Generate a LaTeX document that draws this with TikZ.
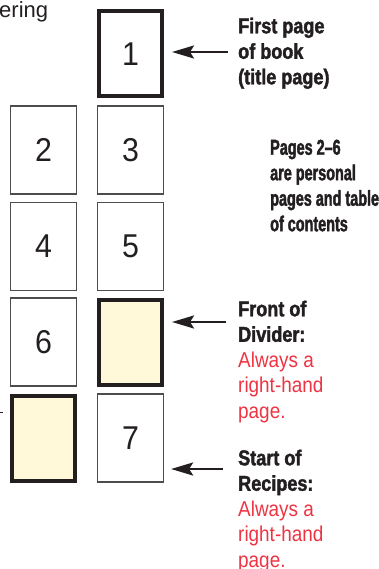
\documentclass[tikz,border=0pt]{standalone}
\usepackage{fontspec}
\setmainfont{Liberation Sans}
\newfontfamily\lblfont[FakeStretch=0.84, BoldFeatures={FakeBold=1.8}]{Liberation Sans}
\newfontfamily\notefont[FakeStretch=0.88]{Liberation Sans}
\newfontfamily\packfont[FakeStretch=0.67, BoldFeatures={FakeBold=1.8}]{Liberation Sans}
\newfontfamily\numfont[FakeStretch=0.92]{Liberation Sans}
\usepackage{xcolor}
\usetikzlibrary{arrows.meta}
\definecolor{ink}{HTML}{231F20}
\definecolor{edge}{HTML}{4D4D4F}
\definecolor{cream}{HTML}{FFF9D9}
\definecolor{notered}{HTML}{EE3342}

\begin{document}
\begin{tikzpicture}[x=1pt, y=-1pt,
  pg/.style={draw=edge, line width=1.2pt, minimum width=66pt, minimum height=88pt, inner sep=0pt, text=ink, font=\numfont\fontsize{33}{36}\selectfont},
  divpg/.style={pg, draw=ink, line width=4pt, fill=cream, minimum width=63pt, minimum height=85pt},
  lbl/.style={anchor=north west, align=left, inner sep=0pt, text=ink, font=\lblfont\bfseries\fontsize{21.5}{25.5}\selectfont},
  arr/.style={-{Stealth[length=22pt, width=13pt, inset=4pt]}, line width=2.6pt, draw=ink}]
\useasboundingbox (0,0) rectangle (379,569);
\node[anchor=base west, inner sep=0pt, text=ink, font=\fontsize{22}{25}\selectfont] (ttl) at (-1,18) {ering};
% pages, two columns
\node[divpg, fill=white] (p1) at (130.5,54) {1};
\node[pg] (p2) at (43.5,150) {2};
\node[pg] (p3) at (130.5,150) {3};
\node[pg] (p4) at (43.5,246.5) {4};
\node[pg] (p5) at (130.5,246.5) {5};
\node[pg] (p6) at (43.5,342) {6};
\node[divpg] (dfront) at (130.5,342) {};
\node[divpg] (dback) at (43.5,438) {};
\node[pg] (p7) at (130.5,438) {7};
\draw[ink, line width=1pt] (0,412) -- (3,412);
% labels
\node[lbl] (lfirst) at (238,17.5) {First page\\of book\\(title page)};
\node[lbl, font=\packfont\bfseries\fontsize{21.5}{25.5}\selectfont] (lpages) at (270,139.5) {Pages 2–6\\are personal\\pages and table\\of contents};
\node[lbl] (lfront) at (238,300.5) {Front of\\Divider:\\\textcolor{notered}{\notefont\mdseries Always a}\\\textcolor{notered}{\notefont\mdseries right-hand}\\\textcolor{notered}{\notefont\mdseries page.}};
\node[lbl] (lstart) at (238,449.5) {Start of\\Recipes:\\\textcolor{notered}{\notefont\mdseries Always a}\\\textcolor{notered}{\notefont\mdseries right-hand}\\\textcolor{notered}{\notefont\mdseries page.}};
% arrows
\coordinate (a1) at (228,52);
\coordinate (a2) at (226,322);
\coordinate (a3) at (223,469);
\draw[arr] (a1) -- (a1 -| p1.east) [shorten >=8pt];
\draw[arr] (a2) -- (a2 -| dfront.east) [shorten >=8pt];
\draw[arr] (a3) -- (a3 -| p7.east) [shorten >=7pt];
\end{tikzpicture}
\end{document}
